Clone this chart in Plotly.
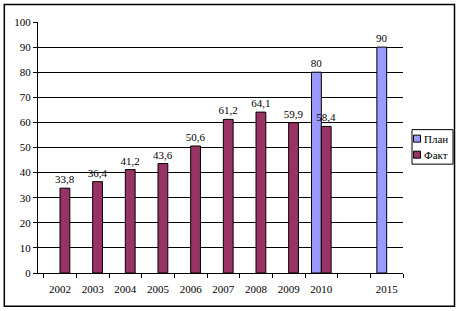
import plotly.graph_objects as go

categories = ["2002", "2003", "2004", "2005", "2006", "2007", "2008", "2009", "2010", " ", "2015"]
plan_values = [None, None, None, None, None, None, None, None, 80, None, 90]
fact_values = [33.8, 36.4, 41.2, 43.6, 50.6, 61.2, 64.1, 59.9, 58.4, None, None]
series_names = ["План", "Факт"]
series_colors = ["#9999FF", "#993366"]
y_ticks = list(range(0, 101, 10))
grid_ticks = list(range(10, 100, 10))

FONT = "Liberation Serif, serif"
TXT = dict(family=FONT, size=11, color="black")

fig = go.Figure()
for name, vals, col in zip(series_names, [plan_values, fact_values], series_colors):
    fig.add_trace(go.Bar(
        x=categories, y=vals, name=name,
        marker=dict(color=col, line=dict(color="black", width=1)),
        texttemplate="%{y}", textposition="outside", cliponaxis=False,
        constraintext="none",
        textfont=TXT, outsidetextfont=TXT, showlegend=False,
    ))

# invisible trace to activate the grid axis
fig.add_trace(go.Scatter(x=[categories[0]], y=[None], yaxis="y2", showlegend=False, hoverinfo="skip"))

# plot area in px: x 38..403, y 22..272.7
PW, PH = 365.0, 250.7
def px_x(p):
    return (p - 38) / PW
def px_y(p):
    return (272.7 - p) / PH

shapes = [dict(
    type="rect", xref="paper", yref="paper",
    x0=px_x(4.3), x1=px_x(454.5), y0=px_y(306), y1=px_y(4.5),
    line=dict(color="black", width=1.5), fillcolor="rgba(0,0,0,0)", layer="below",
)]
# legend box
shapes.append(dict(
    type="rect", xref="paper", yref="paper",
    x0=px_x(412), x1=px_x(453), y0=px_y(164), y1=px_y(129.5),
    line=dict(color="black", width=1), fillcolor="white",
))
annotations = []
for i, (name, col) in enumerate(zip(series_names, series_colors)):
    cy = 138.5 + i * 16
    shapes.append(dict(
        type="rect", xref="paper", yref="paper",
        x0=px_x(413.5), x1=px_x(420.5), y0=px_y(cy + 3.5), y1=px_y(cy - 3.5),
        line=dict(color="black", width=1), fillcolor=col,
    ))
    annotations.append(dict(
        xref="paper", yref="paper", x=px_x(422), y=px_y(cy),
        xanchor="left", yanchor="middle", text=name, showarrow=False, font=TXT,
    ))

fig.update_layout(
    width=459, height=311,
    margin=dict(l=38, r=56, t=22, b=38),
    paper_bgcolor="white", plot_bgcolor="white",
    separators=", ",
    barmode="group", bargap=0.4, bargroupgap=0,
    font=TXT,
    showlegend=False,
    xaxis=dict(
        type="category", showline=True, linecolor="black", linewidth=1,
        ticks="outside", tickson="boundaries", ticklen=4, tickcolor="black",
        tickangle=0, showgrid=False, tickfont=TXT, automargin=False,
        ticklabelstandoff=6,
    ),
    yaxis=dict(
        range=[0, 100], tickvals=y_ticks, showline=True, linecolor="black", linewidth=1,
        ticks="outside", ticklen=4, tickcolor="black", showgrid=False, zeroline=False,
        tickfont=TXT, automargin=False,
    ),
    yaxis2=dict(
        range=[0, 100], overlaying="y", tickvals=grid_ticks, showticklabels=False,
        showgrid=True, gridcolor="black", gridwidth=1, zeroline=False, ticks="",
    ),
    shapes=shapes,
    annotations=annotations,
)

fig.write_html(
    "out.html",
    config={"displayModeBar": False, "staticPlot": True},
    post_script="document.body.style.margin='0';document.body.style.overflow='hidden';",
)
